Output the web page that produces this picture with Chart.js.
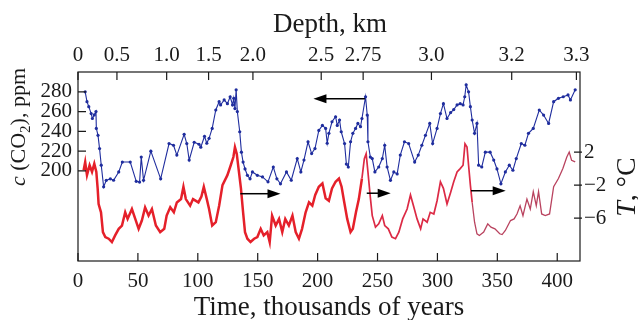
<!DOCTYPE html>
<html>
<head>
<meta charset="utf-8">
<script src="https://cdn.jsdelivr.net/npm/chart.js@4"></script>
<style>
  body { margin: 0; background: #fff; }
</style>
</head>
<body>
<canvas id="chart" width="638" height="320"></canvas>
<script>
// CO2 record (thousands of years, ppm)
const co2Age = [6, 7.5, 9, 11, 12, 13.6, 15, 15.3, 16.7, 18, 19.4, 21.4, 23.6, 27, 29.7, 34, 37, 43.6, 48.6, 51.4,
  52.8, 54.7, 60.8, 69, 76, 79.7, 82.5, 88.6, 90.8, 92.8, 97, 101, 102.5, 105.6, 107.5, 109.4, 112, 115, 117.8, 119,
  122, 124.7, 127, 129, 130, 131, 132, 133, 135, 136.4, 137.8, 139.4, 141.4, 143.6, 145.6, 149.7, 154, 158.6, 163, 166,
  169, 174, 178, 183, 186, 188.6, 192, 195, 197.8, 201, 204, 206.7, 208, 209.4, 212, 215, 216.4, 218.3, 219.7, 222.5,
  224, 225.6, 227.5, 229.4, 231.7, 233.6, 235.8, 237, 240, 241.4, 242, 244, 245.6, 247.8, 251, 254, 256, 258, 260.8,
  263.6, 266.4, 269, 272.5, 276, 281, 284, 287, 290, 293.6, 296, 299.7, 302.5, 305, 308, 311, 313.6, 316.4, 319, 321.4,
  322.8, 324, 326, 327.5, 329, 331, 333, 334.4, 337, 340, 344, 347, 349.7, 353, 356.7, 360, 363, 365.8, 370, 373, 376,
  380, 385, 388.6, 392.8, 397, 401, 405, 409, 411, 415];
const co2Ppm = [280, 270, 265, 258, 253, 256.6, 260, 243, 236, 222.6, 205.8, 184, 190.5, 192, 190.6, 199, 209, 209, 189.5, 188.8,
  214, 190.5, 220, 192, 227.7, 226, 216, 237, 227.7, 211, 229, 227, 224, 235, 228, 233, 243, 261.6, 270, 266.7,
  271.8, 268, 275, 266.7, 273.4, 263, 282, 260, 239.6, 219, 209, 202, 195.6, 192, 199, 195.6, 194, 189, 204, 192,
  187, 199, 190.6, 212.5, 199, 211, 229.5, 217.6, 222.6, 241, 246, 243, 228, 238, 249.7, 254.8, 246, 251.5, 239.6, 227.7,
  207, 204, 229.5, 238, 243, 248, 244.7, 253, 275, 256.5, 229.5, 214, 212.5, 199, 204, 212.5, 226, 204, 190.5,
  199, 197, 216, 229.5, 227.7, 209, 216, 226, 236, 248, 227.7, 243, 258, 268, 253, 259, 262, 266.7, 268, 266.7,
  275, 287, 280, 265, 251.5, 238, 248, 205.8, 204, 219, 219, 211, 202, 187, 199, 205.8, 200.7, 212.5, 227.7, 226, 238,
  243, 261.6, 256.5, 248, 270, 273.4, 275, 276.8, 271.8, 282];

// temperature record (thousands of years, deg C)
const tempAge = [4.7, 6, 7.5, 9.7, 11.7, 13.6, 15.3, 16.4, 17.2, 19.2, 20.8, 22.8, 25.6, 28.3, 31, 34, 36.7, 39.4, 41.4, 45,
  47.8, 50.6, 53.3, 56, 58.9, 61.7, 65, 68.6, 72, 74, 77, 80, 82.5, 86, 88, 90, 93.6, 96, 100.5, 103, 105, 107.5, 109.4,
  112, 115, 117.8, 120.6, 124.7, 127.5, 129.7, 131, 132.5, 134, 136, 137.8, 139.4, 141.4, 144, 147, 149.7, 152.5, 155,
  158, 160, 162, 165, 167.8, 170.5, 173, 176, 179, 181.7, 184.4, 187, 190, 192.8, 195.6, 198, 201, 204, 206.7, 209.4,
  212, 215, 217.8, 220, 222, 224.7, 227.5, 229.4, 232, 234.4, 237, 239, 240.5, 242, 244, 245.6, 248.3, 251, 254, 256,
  259, 262, 265, 267.8, 271, 274.7, 277.5, 280, 283, 286, 288, 291.4, 294, 297, 299.7, 302.5, 305, 308, 311, 313.6,
  316.4, 319, 321.4, 323, 324.7, 326, 327.5, 329, 331, 333, 335, 338.6, 342, 344.7, 348, 352, 354, 356.7, 361, 364,
  366.4, 369, 371.4, 374.7, 377.5, 380, 382.5, 384.4, 387, 390, 393.6, 397, 401, 404.7, 408, 410, 412, 415];
const tempC = [-0.2, 0.8, -0.8, 0.4, -0.4, 0.6, -0.4, -2.4, -4.3, -5.3, -7.7, -8.3, -8.5, -8.9, -8.1, -7.3, -6.9, -5.3, -6.1, -4.9,
  -6.1, -7.3, -6.3, -4.7, -5.7, -4.9, -6.9, -7.7, -7.3, -5.7, -4.7, -5.3, -4.1, -3.7, -2.2, -3.7, -4.5, -3.7, -4.1, -3.4, -2.2, -3.7, -4.9,
  -6.9, -6.5, -4.5, -2.0, -0.8, 0.4, 1.4, 2.6, 1.8, 0, -2.4, -5.3, -7.7, -8.5, -8.9, -8.5, -8.3, -7.3, -8.1,
  -7.7, -8.9, -5.7, -6.9, -6.1, -7.7, -6.1, -6.9, -5.7, -7.7, -8.5, -7.3, -5.3, -4.1, -4.5, -3.2, -2.2, -1.8, -3.6, -3.9,
  -2.4, -1.6, -1.2, -2.2, -3.9, -6.1, -7.7, -7.3, -5.3, -3.7, -1.2, 1.2, 1.8, -0.4, -3.5, -5.7, -7.1, -6.7, -5.7, -6.9,
  -7.3, -8.3, -8.5, -7.7, -6.1, -4.9, -3.2, -4.5, -6.1, -7.3, -6.1, -6.5, -5.3, -5.5, -3.9, -1.6, -2.4, -4.3, -2.9, -1.6,
  -0.4, 0, 0.4, 3.0, 2.6, 0.4, -2.0, -4.1, -6.5, -7.9, -8.1, -7.7, -6.7, -7.1, -7.3, -7.9, -8.0, -7.5, -6.3, -6.1,
  -5.5, -4.5, -5.7, -3.7, -4.9, -2.8, -4.5, -2.8, -5.5, -5.7, -5.5, -2.2, -1.2, 0, 1.4, 2.0, 1.0, 0.8];

// axes
const timeTicks = [0, 50, 100, 150, 200, 250, 300, 350, 400];
const co2Ticks = [200, 220, 240, 260, 280];
const tempTicks = [2, -2, -6];
const depthLabels = ['0', '0.5', '1.0', '1.5', '2.0', '2.5', '2.75', '3.0', '3.2', '3.3'];
const depthAge = [0, 32.5, 74, 109, 146, 203, 238, 295, 362, 416];

// arrows (age from, age to, level on CO2 axis)
const arrowFrom = [239.5, 135.5, 241, 328];
const arrowTo = [196.5, 169, 261, 357];
const arrowLevel = [273, 177, 177.5, 180];

const pts = (xs, ys, lo, hi) => xs.map((x, i) => ({ x: x, y: ys[i] })).filter(p => p.x >= lo && p.x <= hi);

const serif = '"Liberation Serif", "Times New Roman", serif';
const ink = '#1a1a1a';

function drawRich(ctx, parts, size) {
  let w = 0;
  parts.forEach(p => {
    ctx.font = (p.it ? 'italic ' : '') + Math.round(p.sub ? size * 0.68 : size) + 'px ' + serif;
    p.w = ctx.measureText(p.t).width;
    w += p.w;
  });
  let x = -w / 2;
  parts.forEach(p => {
    ctx.font = (p.it ? 'italic ' : '') + Math.round(p.sub ? size * 0.68 : size) + 'px ' + serif;
    ctx.fillText(p.t, x, p.sub ? size * 0.22 : 0);
    x += p.w;
  });
}

const decor = {
  id: 'decor',
  afterDatasetsDraw(chart) {
    const { ctx, chartArea: a, scales } = chart;
    const len = 8;
    ctx.save();
    ctx.strokeStyle = ink;
    ctx.lineWidth = 1.2;
    ctx.strokeRect(a.left, a.top, a.right - a.left, a.bottom - a.top);

    ctx.beginPath();
    timeTicks.forEach(v => {
      const px = scales.x.getPixelForValue(v);
      ctx.moveTo(px, a.bottom); ctx.lineTo(px, a.bottom - len);
    });
    depthAge.forEach(v => {
      const px = scales.x2.getPixelForValue(v);
      ctx.moveTo(px, a.top); ctx.lineTo(px, a.top + len);
    });
    co2Ticks.forEach(v => {
      const py = scales.y.getPixelForValue(v);
      ctx.moveTo(a.left, py); ctx.lineTo(a.left + len, py);
    });
    tempTicks.forEach(v => {
      const py = scales.y2.getPixelForValue(v);
      ctx.moveTo(a.right + 2, py); ctx.lineTo(a.right - 6, py);
    });
    ctx.stroke();

    // arrows
    ctx.strokeStyle = '#000';
    ctx.fillStyle = '#000';
    ctx.lineWidth = 1.5;
    arrowFrom.forEach((f, i) => {
      const x1 = scales.x.getPixelForValue(f);
      const x2 = scales.x.getPixelForValue(arrowTo[i]);
      const y = scales.y.getPixelForValue(arrowLevel[i]);
      const d = Math.sign(x2 - x1);
      ctx.beginPath();
      ctx.moveTo(x1, y); ctx.lineTo(x2 - d * 10, y);
      ctx.stroke();
      ctx.beginPath();
      ctx.moveTo(x2, y);
      ctx.lineTo(x2 - d * 13, y - 4.5);
      ctx.lineTo(x2 - d * 13, y + 4.5);
      ctx.closePath();
      ctx.fill();
    });

    // titles
    ctx.fillStyle = ink;
    ctx.textBaseline = 'alphabetic';
    ctx.textAlign = 'left';
    ctx.save();
    ctx.translate(330, 32);
    drawRich(ctx, [{ t: 'Depth, km' }], 27);
    ctx.restore();
    ctx.save();
    ctx.translate(329, 315);
    drawRich(ctx, [{ t: 'Time, thousands of years' }], 27);
    ctx.restore();
    ctx.save();
    ctx.translate(25, 127);
    ctx.rotate(-Math.PI / 2);
    drawRich(ctx, [{ t: 'c', it: true }, { t: ' (CO' }, { t: '2', sub: true }, { t: '), ppm' }], 22);
    ctx.restore();
    ctx.save();
    ctx.translate(635, 187);
    ctx.rotate(-Math.PI / 2);
    drawRich(ctx, [{ t: 'T', it: true }, { t: ', °C' }], 28);
    ctx.restore();
    ctx.restore();
  }
};

const tickFont = { family: serif, size: 21 };
const fixTicks = list => s => { s.ticks = list.map(v => ({ value: v })); };

new Chart(document.getElementById('chart').getContext('2d'), {
  type: 'line',
  data: {
    datasets: [
      {
        data: pts(tempAge, tempC, 0, 237),
        yAxisID: 'y2', borderColor: '#e5202a', borderWidth: 2.5, pointRadius: 0, tension: 0
      },
      {
        data: pts(tempAge, tempC, 237, 330),
        yAxisID: 'y2', borderColor: '#dc2a45', borderWidth: 1.7, pointRadius: 0, tension: 0
      },
      {
        data: pts(tempAge, tempC, 329, 420),
        yAxisID: 'y2', borderColor: '#b9435f', borderWidth: 1.3, pointRadius: 0, tension: 0
      },
      {
        data: pts(co2Age, co2Ppm, 0, 420),
        yAxisID: 'y', borderColor: '#1f2d9e', backgroundColor: '#1f2d9e', borderWidth: 1.1,
        pointRadius: 1.6, pointBorderWidth: 0, tension: 0
      }
    ]
  },
  options: {
    responsive: false,
    animation: false,
    layout: { padding: 0 },
    plugins: { legend: { display: false }, tooltip: { enabled: false } },
    scales: {
      x: {
        type: 'linear', position: 'bottom', min: 0, max: 419,
        afterBuildTicks: fixTicks(timeTicks),
        afterFit: s => { s.height = 59; },
        grid: { display: false, drawTicks: false }, border: { display: false },
        ticks: { font: tickFont, color: ink, padding: 8, autoSkip: false, maxRotation: 0 }
      },
      x2: {
        type: 'linear', position: 'top', min: 0, max: 419,
        afterBuildTicks: fixTicks(depthAge),
        afterFit: s => { s.height = 72; },
        grid: { display: false, drawTicks: false }, border: { display: false },
        ticks: {
          font: tickFont, color: ink, padding: 4, autoSkip: false, maxRotation: 0,
          callback: (v, i) => depthLabels[i]
        }
      },
      y: {
        type: 'linear', position: 'left', min: 109, max: 300,
        afterBuildTicks: fixTicks(co2Ticks),
        afterFit: s => { s.width = 78; },
        grid: { display: false, drawTicks: false }, border: { display: false },
        ticks: { font: tickFont, color: ink, padding: 6, autoSkip: false }
      },
      y2: {
        type: 'linear', position: 'right', min: -11.2, max: 11.7,
        afterBuildTicks: fixTicks(tempTicks),
        afterFit: s => { s.width = 58; },
        grid: { display: false, drawTicks: false }, border: { display: false },
        ticks: {
          font: tickFont, color: ink, padding: 4, autoSkip: false,
          callback: v => (v < 0 ? '\u2212' + Math.abs(v) : String(v))
        }
      }
    }
  },
  plugins: [decor]
});
</script>
</body>
</html>
